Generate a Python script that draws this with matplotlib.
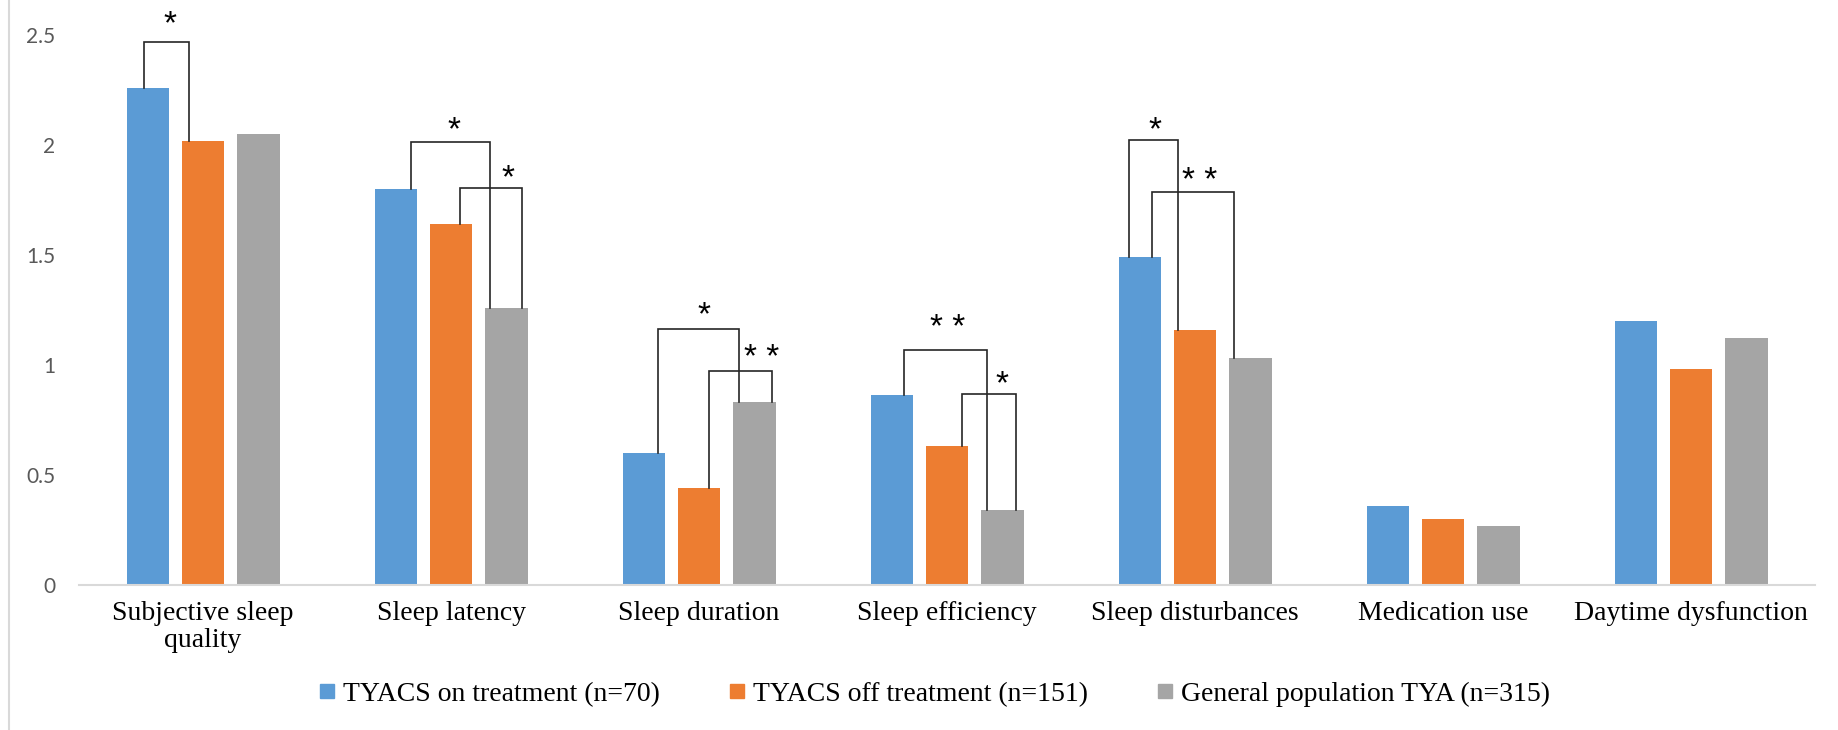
import matplotlib
matplotlib.use("Agg")
import matplotlib.pyplot as plt
from matplotlib.lines import Line2D
from matplotlib.font_manager import FontProperties
import numpy as np

plt.rcParams["font.family"] = ["Liberation Serif", "DejaVu Serif"]

# categories and series
categories = ["Subjective sleep\nquality", "Sleep latency", "Sleep duration",
              "Sleep efficiency", "Sleep disturbances", "Medication use",
              "Daytime dysfunction"]
series_names = ["TYACS on treatment (n=70)", "TYACS off treatment (n=151)",
                "General population TYA (n=315)"]
on_treatment = [2.26, 1.80, 0.60, 0.86, 1.49, 0.355, 1.20]
off_treatment = [2.02, 1.64, 0.44, 0.63, 1.16, 0.30, 0.98]
general_tya = [2.05, 1.26, 0.83, 0.34, 1.03, 0.265, 1.12]
y_ticks = [0, 0.5, 1, 1.5, 2, 2.5]
y_tick_labels = ["0", "0.5", "1", "1.5", "2", "2.5"]

# significance brackets:
# (category, left leg offset, right leg offset, bracket top, left series, right series,
#  label, star x offset, star y)
brackets = [
    (0, -0.238, -0.056, 2.468, 0, 1, "*", -0.133, 2.573),
    (1, -0.160, 0.158, 2.015, 0, 2, "*", 0.010, 2.087),
    (1, 0.037, 0.287, 1.806, 1, 2, "*", 0.228, 1.869),
    (2, -0.165, 0.161, 1.162, 0, 2, "*", 0.020, 1.248),
    (2, 0.040, 0.294, 0.971, 1, 2, "* *", 0.254, 1.053),
    (3, -0.175, 0.163, 1.066, 0, 2, "* *", 0.002, 1.189),
    (3, 0.062, 0.280, 0.867, 1, 2, "*", 0.220, 0.935),
    (4, -0.266, -0.069, 2.024, 0, 1, "*", -0.161, 2.087),
    (4, -0.173, 0.157, 1.788, 0, 2, "* *", 0.020, 1.856),
]

colors = ["#5B9BD5", "#ED7D31", "#A5A5A5"]
values = [on_treatment, off_treatment, general_tya]

serif = FontProperties(family=["Liberation Serif", "DejaVu Serif"], size=20)
tickfont = FontProperties(family=["Lato", "DejaVu Sans"], size=15)
starfont = FontProperties(family=["Liberation Sans", "DejaVu Sans"], size=24)

fig = plt.figure(figsize=(18.38, 7.30), dpi=100)
ax = fig.add_axes([0.0430, 0.1993, 0.9445, 0.7527])

x = np.arange(len(categories))
step = 0.222
width = 0.173
for i, (vals, col, name) in enumerate(zip(values, colors, series_names)):
    ax.bar(x + (i - 1) * step, vals, width, color=col, label=name, zorder=2)

for cat, xl, xr, top, si, sj, lab, sx, sy in brackets:
    bl = values[si][cat]
    br = values[sj][cat]
    ax.plot([cat + xl, cat + xl, cat + xr, cat + xr], [bl, top, top, br],
            color="#262626", lw=1.2, clip_on=False, zorder=3,
            solid_joinstyle="miter")
    ax.annotate(lab, (cat + sx, sy), xytext=(0, -10), textcoords="offset points",
                ha="center", va="baseline", fontproperties=starfont,
                color="black", annotation_clip=False)

ax.set_xlim(-0.5, len(categories) - 0.5)
ax.set_ylim(0, 2.5)
ax.tick_params(axis="y", length=0, pad=17)
ax.tick_params(axis="x", length=0, pad=12)
ax.set_yticks(y_ticks)
ax.set_xticks(x)
ax.set_yticklabels(y_tick_labels)
ax.set_xticklabels(categories)
for t in ax.get_yticklabels():
    t.set_fontproperties(tickfont)
    t.set_color("#595959")
for t in ax.get_xticklabels():
    t.set_fontproperties(serif)
    t.set_color("black")
    t.set_linespacing(1.1)
for s in ["top", "right", "left"]:
    ax.spines[s].set_visible(False)
ax.spines["bottom"].set_color("#D9D9D9")
ax.spines["bottom"].set_linewidth(1.5)

# thin frame line on left edge
fig.add_artist(Line2D([8.5 / 1838, 8.5 / 1838], [0, 1], color="#D9D9D9", lw=1.5))

handles = [Line2D([], [], marker="s", linestyle="none", markersize=10.5,
                  markerfacecolor=c, markeredgecolor=c) for c in colors]
fig.legend(handles, series_names, loc="center", bbox_to_anchor=(0.508, 0.049),
           ncol=3, frameon=False, handlelength=0.7, handletextpad=0.25,
           columnspacing=2.4, prop=serif)

fig.savefig("out.png", dpi=100)
